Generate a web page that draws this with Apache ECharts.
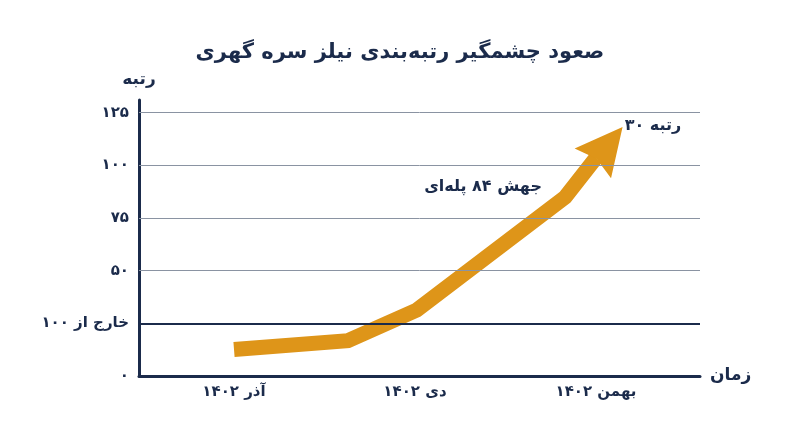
<!DOCTYPE html>
<html>
<head>
<meta charset="utf-8">
<script src="https://cdn.jsdelivr.net/npm/echarts@6/dist/echarts.min.js"></script>
<style>
html,body{margin:0;padding:0;background:#fff;}
#c{width:800px;height:447px;}
</style>
</head>
<body>
<div id="c"></div>
<script>
const titleText = 'صعود چشمگیر رتبه‌بندی نیلز سره گهری';
const monthTicks = [1, 2, 3];
const monthLabels = ['آذر ۱۴۰۲', 'دی ۱۴۰۲', 'بهمن ۱۴۰۲'];
const rankTicks = [0, 25, 50, 75, 100, 125];
const rankLabels = ['۰', 'خارج از ۱۰۰', '۵۰', '۷۵', '۱۰۰', '۱۲۵'];
const gridValues = [25, 50, 75, 100, 125];
const pathX = [1, 1.63, 2.01, 2.83, 3.0];
const pathY = [12.6, 16.8, 31.3, 84.9, 103.5];
const arrowHeadX = 3.065;
const arrowHeadY = 109.6;
const noteText = ['رتبه ۳۰', 'جهش ۸۴ پله‌ای'];
const noteX = [3.315, 2.376];
const noteY = [118.6, 89.7];

const NAVY = '#1b2b4b';
const ORANGE = '#de9519';
const FONT = 'DejaVu Sans';

const chart = echarts.init(document.getElementById('c'), null, {renderer: 'canvas'});
const pathData = pathX.map((x, i) => [x, pathY[i]]);
const n = pathData.length;

chart.setOption({
  animation: false,
  backgroundColor: '#ffffff',
  title: {
    text: titleText, left: 'center', top: 37,
    textStyle: {fontFamily: FONT, fontSize: 21, fontWeight: 'bold', color: NAVY}
  },
  grid: {left: 139, right: 100, top: 100, bottom: 71},
  xAxis: {
    type: 'value', min: 0.475, max: 3.575,
    name: 'زمان', nameLocation: 'end', nameGap: 10,
    nameTextStyle: {fontFamily: FONT, fontSize: 17, color: NAVY, fontWeight: 'bold', verticalAlign: 'middle'},
    axisLine: {show: true, onZero: false, lineStyle: {color: NAVY, width: 3}},
    axisTick: {show: false},
    splitLine: {show: false},
    axisLabel: {
      customValues: monthTicks, margin: 9,
      fontFamily: FONT, fontSize: 15, color: NAVY, fontWeight: 'bold',
      formatter: v => monthLabels[monthTicks.indexOf(v)] || ''
    }
  },
  yAxis: {
    type: 'value', min: 0, max: 131,
    name: 'رتبه', nameLocation: 'end', nameGap: 12,
    nameTextStyle: {fontFamily: FONT, fontSize: 17, color: NAVY, fontWeight: 'bold', align: 'center'},
    axisLine: {show: true, onZero: false, lineStyle: {color: NAVY, width: 3}},
    axisTick: {show: false},
    splitLine: {show: false},
    axisLabel: {
      customValues: rankTicks, margin: 10,
      fontFamily: FONT, fontSize: 15, color: NAVY, fontWeight: 'bold',
      formatter: v => rankLabels[rankTicks.indexOf(v)] || ''
    }
  },
  series: [
    {
      type: 'line', data: [], z: 1, silent: true,
      markLine: {
        silent: true, symbol: 'none', label: {show: false},
        data: gridValues.map(v => ({
          yAxis: v,
          lineStyle: v === 25 ? {color: NAVY, width: 2, type: 'solid'} : {color: '#8a93a2', width: 1, type: 'solid'}
        }))
      }
    },
    {
      type: 'line', data: pathData, z: 3, symbol: 'none', silent: true,
      lineStyle: {color: ORANGE, width: 15, cap: 'butt', join: 'miter'}
    },
    {
      type: 'lines', coordinateSystem: 'cartesian2d', z: 4, silent: true,
      symbol: ['none', 'path://M26,0L52,47L26,41L0,47Z'], symbolSize: [52, 47],
      lineStyle: {color: ORANGE, width: 1, opacity: 1},
      data: [{coords: [pathData[n - 2], [arrowHeadX, arrowHeadY]]}]
    },
    {
      type: 'scatter', z: 5, silent: true, symbolSize: 0,
      itemStyle: {opacity: 1},
      data: noteX.map((x, i) => ({value: [x, noteY[i]], name: noteText[i]})),
      label: {
        show: true, position: 'inside', formatter: p => p.name,
        fontFamily: FONT, fontSize: 16, color: NAVY, fontWeight: 'bold',
        textBorderWidth: 0
      }
    }
  ]
});
</script>
</body>
</html>
